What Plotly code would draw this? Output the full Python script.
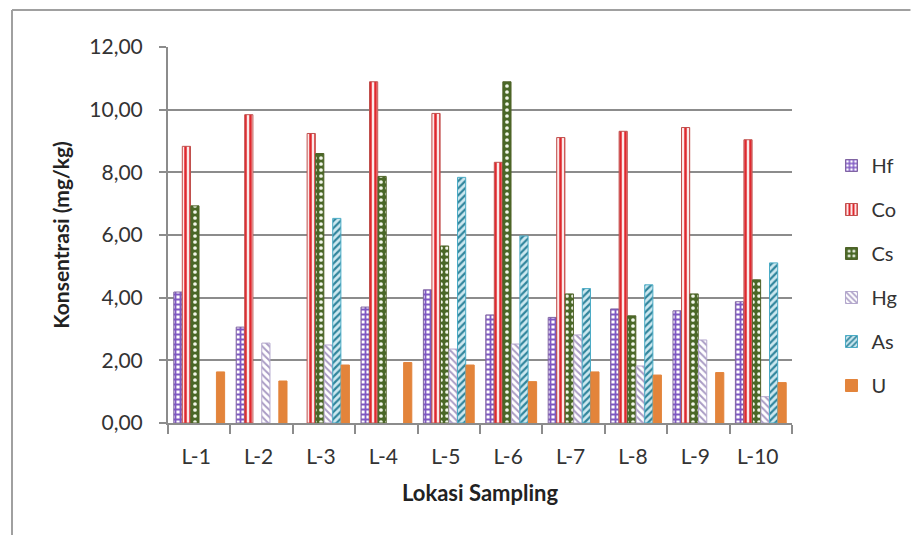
import plotly.graph_objects as go

# Sampling locations
lokasi = ["L-1", "L-2", "L-3", "L-4", "L-5", "L-6", "L-7", "L-8", "L-9", "L-10"]

# Element concentrations (mg/kg); None = not detected / no bar
hf = [4.18, 3.06, None, 3.70, 4.25, 3.45, 3.37, 3.64, 3.58, 3.87]
co = [8.83, 9.84, 9.24, 10.89, 9.88, 8.32, 9.11, 9.31, 9.43, 9.04]
cs = [6.93, None, 8.60, 7.87, 5.65, 10.89, 4.12, 3.42, 4.12, 4.57]
hg = [None, 2.55, 2.49, None, 2.36, 2.52, 2.81, 1.82, 2.65, 0.84]
as_ = [None, None, 6.53, None, 7.84, 5.97, 4.29, 4.41, None, 5.11]
u = [1.63, 1.34, 1.85, 1.93, 1.85, 1.32, 1.63, 1.53, 1.61, 1.29]

y_ticks = [0, 2, 4, 6, 8, 10, 12]
y_tick_text = ["0,00", "2,00", "4,00", "6,00", "8,00", "10,00", "12,00"]

FONT = "Lato"
GRID = "#8C8C8C"
TXT = "#333333"

series = [
    ("Hf", hf, dict(shape="+", fgcolor="#7E57C2", bgcolor="#FFFFFF", size=5, solidity=0.6), "#8064A2"),
    ("Co", co, dict(shape="|", fgcolor="#E0282E", bgcolor="#FBE9E9", size=5, solidity=0.5), "#C0504D"),
    ("Cs", cs, dict(shape=".", fgcolor="#F2F6EA", bgcolor="#4A6827", size=6, solidity=0.3), "#4F6228"),
    ("Hg", hg, dict(shape="\\", fgcolor="#A99BC4", bgcolor="#FFFFFF", size=5, solidity=0.4), "#B3A7CC"),
    ("As", as_, dict(shape="/", fgcolor="#31859C", bgcolor="#CDE8F0", size=5, solidity=0.45), "#4BACC6"),
    ("U", u, None, "#E3843B"),
]

fig = go.Figure()
for name, vals, pat, line_col in series:
    marker = dict(line=dict(color=line_col, width=1))
    if pat is None:
        marker["color"] = line_col
    else:
        marker["color"] = pat["bgcolor"]
        marker["pattern"] = dict(fillmode="replace", **pat)
    fig.add_trace(go.Bar(name=name, x=lokasi, y=vals, marker=marker,
                         legendgroup=name))

# page geometry (px)
W, H = 915, 535
L, R, T, B = 168, 800, 47, 423

def px_x(px):
    return (px - L) / (R - L)

def px_y(py):
    return (B - py) / (B - T)

# outer frame (top and left edges)
fig.add_shape(type="line", xref="paper", yref="paper",
              x0=px_x(10), x1=px_x(W + 5), y0=px_y(10), y1=px_y(10),
              line=dict(color="#A0A0A0", width=2))
fig.add_shape(type="line", xref="paper", yref="paper",
              x0=px_x(10), x1=px_x(10), y0=px_y(10), y1=px_y(H + 5),
              line=dict(color="#A0A0A0", width=2))

fig.update_layout(
    width=W, height=H,
    margin=dict(l=L, r=W - R, t=T, b=H - B, pad=0),
    paper_bgcolor="white", plot_bgcolor="white",
    barmode="group", bargap=0.18, bargroupgap=0.04,
    font=dict(family=FONT, size=20, color=TXT),
    showlegend=True,
    legend=dict(x=px_x(840), y=px_y(146), xanchor="left", yanchor="top",
                font=dict(size=20, color=TXT),
                tracegroupgap=15, bgcolor="rgba(0,0,0,0)"),
    xaxis=dict(
        showgrid=False, showline=True, linecolor=GRID, linewidth=2,
        ticks="outside", ticklen=9, tickcolor=GRID, tickwidth=1.5,
        tickson="boundaries", ticklabelshift=-3, ticklabelstandoff=14,
        tickfont=dict(size=21, color=TXT),
        title=dict(text="<b>Lokasi Sampling</b>", font=dict(size=22, color="#222222"),
                   standoff=18),
    ),
    yaxis=dict(
        range=[0, 12], tickvals=y_ticks, ticktext=y_tick_text,
        showgrid=True, gridcolor=GRID, gridwidth=2,
        showline=True, linecolor=GRID, linewidth=2, zeroline=False,
        ticks="outside", ticklen=7, tickcolor=GRID, tickwidth=1.5,
        ticklabelstandoff=12,
        tickfont=dict(size=21, color=TXT),
        title=dict(text="<b>Konsentrasi (mg/kg)</b>", font=dict(size=21, color="#222222"),
                   standoff=14),
    ),
)

fig.write_html("out.html")
